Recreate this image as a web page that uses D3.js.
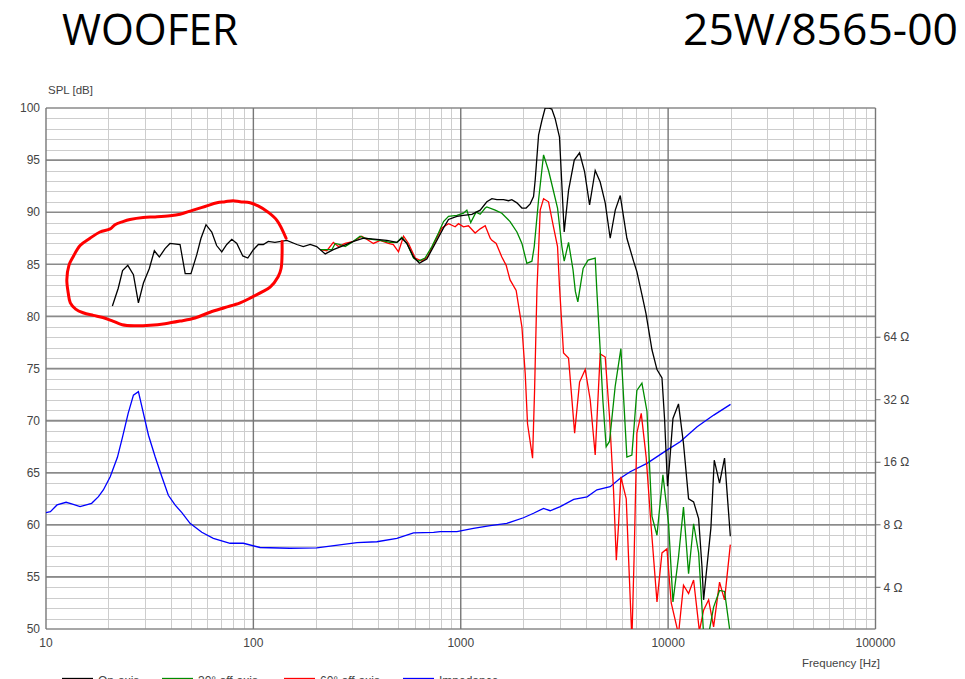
<!DOCTYPE html>
<html><head><meta charset="utf-8">
<script src="https://cdn.jsdelivr.net/npm/d3@7"></script>
<style>html,body{margin:0;padding:0;background:#fff;overflow:hidden}svg{display:block}</style>
</head><body>
<script>
// ---------- DATA ----------
const titleLeft = "WOOFER";
const titleRight = "25W/8565-00";
const splTicks = [50,55,60,65,70,75,80,85,90,95,100];
const freqTicks = [10,100,1000,10000,100000];
const freqTickLabels = ["10","100","1000","10000","100000"];
const ohmTicks = [4,8,16,32,64];
const ohmTickLabels = ["4 Ω","8 Ω","16 Ω","32 Ω","64 Ω"];
const seriesNames = ["On-axis","30° off-axis","60° off-axis","Impedance"];

const onAxisFreq = [20.9,22.3,23.4,24.8,26.4,27.9,29.5,31.5,33.3,35.2,37.5,39.6,44.3,46.9,50.0,53.3,55.9,59.1,63.0,66.5,70.4,74.4,78.7,83.2,88.9,94.0,100,105.7,111.7,118,127,145,162,174,188,202,222,243,272,304,340,394,440,492,520,550,592,632,686,767,826,873,958,1030,1132,1241,1336,1413,1494,1608,1700,1763,1866,1972,2067,2162,2244,2286,2373,2462,2553,2649,2748,2851,2993,3154,3310,3527,3741,3955,4181,4450,4703,4973,5256,5560,5877,6326,6812,7068,7476,7818,8357,8836,9340,9616,9934,10160,10550,11220,11860,12550,13270,14030,14560,14830,15390,16080,16690,17700,18710,19950];
const onAxisSPL = [81.0,82.7,84.4,84.9,84.0,81.3,83.2,84.6,86.3,85.7,86.5,87.0,86.9,84.1,84.1,85.9,87.5,88.8,88.1,86.8,86.2,86.9,87.4,87.0,85.8,85.6,86.4,86.9,86.9,87.2,87.1,87.3,86.9,86.7,86.9,86.7,86.0,86.4,86.8,87.2,87.5,87.4,87.3,87.1,87.5,87.0,85.7,85.1,85.5,87.3,88.5,89.3,89.6,89.7,89.8,90.2,91.0,91.3,91.2,91.2,91.1,91.2,90.9,90.4,90.4,90.8,91.5,93.1,97.4,98.8,100.0,100.0,99.9,99.0,97.2,88.1,92.1,95.0,95.7,93.9,90.7,94.0,92.9,90.9,87.5,90.2,91.6,87.5,85.3,84.3,82.1,80.3,76.8,74.9,74.1,70.1,63.7,65.9,70.2,71.6,67.8,62.5,62.2,60.6,56.0,52.8,56.0,59.7,66.2,64.0,66.4,58.9];

const off30Freq = [210,239,248,262,277,298,327,346,373,409,456,492,520,550,592,625,673,726,781,826,873,958,1031,1070,1117,1185,1241,1312,1336,1466,1578,1729,1866,1972,2083,2204,2261,2373,2508,2650,2779,2929,3074,3154,3310,3477,3570,3669,3892,4111,4450,4531,4703,4843,5025,5216,5556,5919,6326,6687,7068,7476,7906,8357,8836,9437,10050,10550,11220,11860,12550,13270,14030,14830,15680,16570,17700,18710,19950];
const off30SPL = [86.4,86.4,87.0,86.9,86.7,87.1,87.7,87.5,87.4,87.3,87.1,87.1,87.6,87.0,85.6,85.3,85.6,86.7,88.0,89.1,89.6,89.7,89.9,90.2,89.0,90.0,89.8,90.4,90.5,90.2,89.9,89.1,88.1,87.0,85.1,85.3,86.7,91.2,95.5,94.0,92.3,90.4,86.7,85.3,87.1,84.5,82.4,81.4,84.6,85.4,85.6,82.5,76.8,72.0,67.5,68.0,73.3,76.9,66.5,66.7,72.9,73.6,70.9,60.8,59.0,64.8,60.1,52.6,56.9,61.7,55.3,60.1,57.3,49.5,49.5,52.1,53.7,53.6,49.5];

const off60Freq = [210,226,243,257,277,304,333,352,379,409,448,473,501,530,560,603,649,691,738,811,873,940,975,1031,1089,1173,1241,1312,1387,1413,1482,1578,1656,1729,1850,1972,2046,2099,2220,2270,2330,2416,2508,2650,2800,2929,2993,3130,3310,3541,3741,3984,4210,4450,4703,4973,5216,5455,5626,5771,5919,6281,6443,6687,6855,7068,7420,7836,8262,8836,9340,9868,10350,11220,11860,12550,13270,14150,14830,15680,16570,17700,18710,19950];
const off60SPL = [86.4,86.3,87.1,86.7,87.0,87.2,87.7,87.4,87.0,87.3,87.0,86.9,86.2,87.7,87.0,85.6,85.3,85.7,86.9,88.5,88.9,88.6,88.9,88.6,88.7,88.0,88.4,88.7,87.5,87.3,87.0,85.7,84.9,83.5,82.5,79.0,74.5,69.7,66.4,72.9,82.5,90.2,91.3,91.0,88.6,86.7,82.9,76.5,76.0,68.8,73.7,74.9,72.0,66.7,76.4,76.1,70.4,63.3,56.6,60.1,64.6,62.5,56.9,49.0,56.9,68.8,70.7,66.5,60.1,52.6,57.3,57.7,52.5,49.5,54.2,53.4,54.7,49.8,51.8,52.8,50.2,54.5,52.8,58.1];

const impFreq = [10,10.5,11.3,12.5,13.3,14.6,16.6,17.9,18.9,20.4,22.1,23.4,24.9,26.4,27.9,29.5,31.2,33.6,36.2,38.9,41.9,45.2,49.5,56.4,64.1,77.2,89.5,107.7,150,202,316,394,492,592,740,796,958,1151,1387,1668,2006,2244,2508,2698,3020,3505,4066,4537,5256,5877,6561,7906,9868,11430,13800,16600,20000];
const impOhm = [9.15,9.25,9.97,10.27,10.08,9.78,10.15,10.93,11.77,13.63,16.9,21.2,27.5,33.7,35.0,27.5,21.6,17.0,13.63,11.1,9.97,9.15,8.13,7.36,6.89,6.52,6.52,6.22,6.17,6.2,6.56,6.63,6.89,7.32,7.35,7.41,7.41,7.69,7.92,8.13,8.65,9.09,9.6,9.35,9.78,10.6,10.9,11.8,12.2,13.4,14.4,15.8,18.3,20.1,23.7,27.0,30.4];

// hand-drawn red ring annotation (Hz, dB)
const ringFreq = [143.8,130.1,117.8,105.4,96.4,86.3,79.8,73.0,66.8,58.5,51.2,44.3,39.6,33.6,29.4,25.4,23.5,21.5,20.4,18.2,16.3,14.6,13.5,12.9,12.6,12.8,13.1,13.9,15.1,16.9,18.8,21.0,23.3,26.9,31.8,37.5,44.3,52.3,61.8,73.0,86.3,98.6,110.2,120.4,131.6,136.0,137.5,137.5];
const ringSPL = [87.5,89.2,90.0,90.6,90.9,91.0,91.1,91.0,90.9,90.55,90.2,89.8,89.65,89.55,89.5,89.3,89.1,88.8,88.4,88.1,87.5,86.8,85.7,84.9,83.5,82.25,81.3,80.7,80.35,80.1,79.9,79.55,79.2,79.1,79.15,79.3,79.55,79.85,80.4,80.85,81.3,81.85,82.35,82.8,83.8,84.6,85.9,87.2];

// ---------- CHART ----------
const W = 965, H = 679;
const L = 46, R = 875.5, T = 108, B = 629;
const svg = d3.select("body").append("svg").attr("width", W).attr("height", H)
  .style("font-family", "'Liberation Sans', Arial, sans-serif");

const x = d3.scaleLog().domain([10, 100000]).range([L, R]);
const y = d3.scaleLinear().domain([50, 100]).range([B, T]);
// impedance axis: 8 Ω at 60 dB, one octave per 6 dB
const yZ = d3.scaleLog().base(2).domain([8 * Math.pow(2, -10/6), 8 * Math.pow(2, 40/6)]).range([B, T]);

// titles
svg.append("text").attr("x", 62).attr("y", 45).text(titleLeft)
  .attr("font-family", "'Open Sans', sans-serif").attr("font-size", 43)
  .attr("textLength", 176).attr("lengthAdjust", "spacingAndGlyphs").attr("fill", "#000");
svg.append("text").attr("x", 683).attr("y", 45).text(titleRight)
  .attr("font-family", "'Open Sans', sans-serif").attr("font-size", 43)
  .attr("textLength", 275).attr("lengthAdjust", "spacingAndGlyphs").attr("fill", "#000");

const grid = svg.append("g");
// minor horizontal
grid.selectAll(".hm").data(d3.range(51, 100)).join("line")
  .attr("x1", L).attr("x2", R).attr("y1", d => Math.round(y(d)) + 0.5).attr("y2", d => Math.round(y(d)) + 0.5)
  .attr("stroke", "#cdcdcd").attr("stroke-width", 1);
// minor vertical
const minorF = [];
[10, 100, 1000, 10000].forEach(dec => { for (let k = 2; k <= 9; k++) minorF.push(dec * k); });
grid.selectAll(".vm").data(minorF).join("line")
  .attr("y1", T).attr("y2", B).attr("x1", d => Math.round(x(d)) + 0.5).attr("x2", d => Math.round(x(d)) + 0.5)
  .attr("stroke", "#cdcdcd").attr("stroke-width", 1);
// major horizontal
grid.selectAll(".hM").data(splTicks).join("line")
  .attr("x1", L).attr("x2", R).attr("y1", d => y(d)).attr("y2", d => y(d))
  .attr("stroke", "#8a8a8a").attr("stroke-width", 1.6);
// major vertical
grid.selectAll(".vM").data(freqTicks).join("line")
  .attr("y1", T).attr("y2", B).attr("x1", d => x(d)).attr("x2", d => x(d))
  .attr("stroke", "#777").attr("stroke-width", 1.4);

// left tick labels
svg.append("g").selectAll("text").data(splTicks).join("text")
  .attr("x", 40).attr("y", d => y(d)).attr("dy", "0.35em").attr("text-anchor", "end")
  .attr("font-size", 12).attr("fill", "#444").text(d => d);
svg.append("text").attr("x", 48).attr("y", 94).attr("font-size", 11.5).attr("fill", "#444").text("SPL [dB]");
// bottom tick labels
svg.append("g").selectAll("text").data(freqTicks).join("text")
  .attr("x", d => x(d)).attr("y", 647).attr("text-anchor", "middle")
  .attr("font-size", 12).attr("fill", "#444").text((d, i) => freqTickLabels[i]);
svg.append("text").attr("x", 880).attr("y", 667).attr("text-anchor", "end")
  .attr("font-size", 11.5).attr("fill", "#444").text("Frequency [Hz]");
// right impedance ticks
const rg = svg.append("g");
rg.selectAll("line").data(ohmTicks).join("line")
  .attr("x1", R).attr("x2", R + 5).attr("y1", d => yZ(d)).attr("y2", d => yZ(d))
  .attr("stroke", "#666").attr("stroke-width", 1);
rg.selectAll("text").data(ohmTicks).join("text")
  .attr("x", R + 8).attr("y", d => yZ(d)).attr("dy", "0.35em")
  .attr("font-size", 12).attr("fill", "#444").text((d, i) => ohmTickLabels[i]);

// clip
svg.append("defs").append("clipPath").attr("id", "clip")
  .append("rect").attr("x", L).attr("y", T).attr("width", R - L).attr("height", B - T);
const plot = svg.append("g").attr("clip-path", "url(#clip)");

const lineSPL = (fs, vs) => d3.line().x((d, i) => x(fs[i])).y((d, i) => y(vs[i]))(fs);
const lineZ = d3.line().x((d, i) => x(impFreq[i])).y((d, i) => yZ(impOhm[i]));

plot.append("path").attr("d", lineZ(impFreq)).attr("fill", "none").attr("stroke", "#0000ff").attr("stroke-width", 1.3);
plot.append("path").attr("d", lineSPL(off60Freq, off60SPL)).attr("fill", "none").attr("stroke", "#ff0000").attr("stroke-width", 1.3);
plot.append("path").attr("d", lineSPL(off30Freq, off30SPL)).attr("fill", "none").attr("stroke", "#008c00").attr("stroke-width", 1.3);
plot.append("path").attr("d", lineSPL(onAxisFreq, onAxisSPL)).attr("fill", "none").attr("stroke", "#000").attr("stroke-width", 1.3);

// annotation ring
const ringLine = d3.line().curve(d3.curveCatmullRom.alpha(0.5))
  .x((d, i) => x(ringFreq[i])).y((d, i) => y(ringSPL[i]));
svg.append("path").attr("d", ringLine(ringFreq)).attr("fill", "none")
  .attr("stroke", "#ff0000").attr("stroke-width", 3).attr("stroke-linecap", "round").attr("stroke-linejoin", "round");

// legend
const legColors = ["#000", "#008c00", "#ff0000", "#0000ff"];
const legX = [62, 162, 284, 403];
const lg = svg.append("g");
seriesNames.forEach((n, i) => {
  lg.append("line").attr("x1", legX[i]).attr("x2", legX[i] + 31).attr("y1", 678.5).attr("y2", 678.5)
    .attr("stroke", legColors[i]).attr("stroke-width", 1.3);
  lg.append("text").attr("x", legX[i] + 36).attr("y", 685).attr("font-size", 12).attr("fill", "#444").text(n);
});
</script>
</body></html>
